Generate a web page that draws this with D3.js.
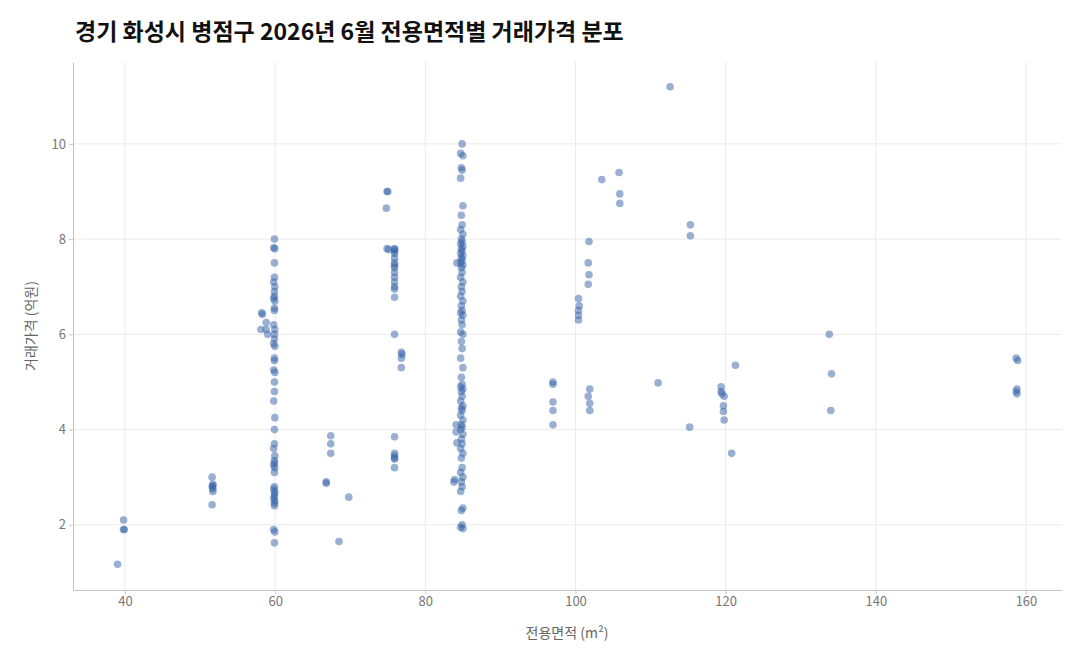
<!DOCTYPE html>
<html><head><meta charset="utf-8">
<script src="https://cdn.jsdelivr.net/npm/d3@7"></script>
<style>body{margin:0;background:#fff;font-family:"Noto Sans CJK KR","Noto Sans",sans-serif;}</style>
</head><body><svg id="c" width="1080" height="660"></svg>
<script>
// columns of sales: price lists for the common unit sizes
const col60 = [8.0,7.82,7.8,7.5,7.2,7.1,7.0,6.9,6.8,6.75,6.7,6.55,6.5,6.2,6.1,6.0,5.9,5.8,5.75,5.5,5.45,5.25,5.2,5.0,4.8,4.6,4.25,4.0,3.7,3.6,3.45,3.35,3.3,3.25,3.2,3.1,2.8,2.75,2.7,2.65,2.6,2.55,2.5,2.45,2.4,1.9,1.85,1.62];
const col60Area = [59.9,59.8,59.95,59.9];
const col85 = [10.0,9.8,9.75,9.5,9.45,9.28,8.7,8.5,8.3,8.2,8.1,8.0,7.95,7.9,7.85,7.8,7.75,7.7,7.65,7.6,7.55,7.5,7.45,7.4,7.3,7.2,7.1,7.0,6.9,6.8,6.7,6.6,6.5,6.45,6.4,6.3,6.2,6.05,6.0,5.85,5.7,5.5,5.3,5.1,4.95,4.9,4.85,4.8,4.7,4.6,4.5,4.45,4.4,4.3,4.2,4.1,4.05,4.0,3.9,3.8,3.7,3.6,3.5,3.4,3.2,3.1,3.0,2.9,2.8,2.7,2.35,2.3,2.0,1.95,1.92];
const col85Area = [84.9,84.7,85.0,84.8];
const col76 = [7.8,7.78,7.75,7.7,7.6,7.5,7.45,7.4,7.3,7.2,7.1,7.0,6.95,6.78,6.0,3.85,3.5,3.45,3.4,3.38,3.2];
const others = [
  [58.2,6.45],[58.3,6.42],[58.8,6.25],[58.8,6.1],[59,6.0],[58.1,6.1],
  [84.2,7.5],[84.1,4.1],[84.1,3.95],[84.2,3.72],[83.9,2.95],[83.8,2.9],
  [74.9,9.0],[75.0,9.0],[74.8,8.65],[74.9,7.8],[75.1,7.78],
  [76.8,5.62],[76.9,5.58],[76.8,5.5],[76.8,5.3],
  [67.4,3.87],[67.4,3.7],[67.4,3.5],[66.8,2.9],[66.8,2.87],[69.8,2.58],[68.5,1.65],
  [51.6,3.0],[51.7,2.85],[51.7,2.82],[51.6,2.8],[51.7,2.75],[51.7,2.7],[51.6,2.42],
  [39.8,2.1],[39.8,1.9],[39.9,1.9],[39,1.17],
  [97,5.0],[97,4.95],[97,4.58],[97,4.4],[97,4.1],
  [100.4,6.75],[100.5,6.6],[100.4,6.5],[100.4,6.4],[100.4,6.3],
  [101.8,7.95],[101.7,7.5],[101.8,7.25],[101.7,7.05],[101.9,4.85],[101.7,4.7],[101.9,4.55],[101.9,4.4],
  [103.5,9.25],[105.8,9.4],[105.9,8.95],[105.9,8.75],[112.6,11.2],[111,4.98],
  [115.3,8.3],[115.3,8.07],[115.2,4.05],
  [119.4,4.9],[119.4,4.8],[119.5,4.75],[119.8,4.7],[119.7,4.5],[119.7,4.38],[119.8,4.2],
  [120.8,3.5],[121.3,5.35],[133.8,6.0],[134.1,5.17],[134.0,4.4],
  [158.7,5.5],[158.9,5.45],[158.8,4.85],[158.7,4.8],[158.8,4.75]
];
const xTicks = [40,60,80,100,120,140,160];
const yTicks = [2,4,6,8,10];

const points = [
  ...col60.map((p, i) => [col60Area[i % col60Area.length], p]),
  ...col85.map((p, i) => [col85Area[i % col85Area.length], p]),
  ...col76.map(p => [75.9, p]),
  ...others
];

const svg = d3.select("#c");
const x = d3.scaleLinear().domain([33.07, 164.8]).range([73, 1062]);
const y = d3.scaleLinear().domain([0.63, 11.72]).range([590, 62]);

svg.append("g").selectAll("line").data(xTicks).enter().append("line")
  .attr("x1", d => x(d)).attr("x2", d => x(d)).attr("y1", 62).attr("y2", 590)
  .attr("stroke", "#ebebeb");
svg.append("g").selectAll("line").data(yTicks).enter().append("line")
  .attr("y1", d => y(d)).attr("y2", d => y(d)).attr("x1", 73).attr("x2", 1062)
  .attr("stroke", "#ebebeb");

const xa = svg.append("g").attr("transform", "translate(0,590)")
  .call(d3.axisBottom(x).tickValues(xTicks).tickSize(4).tickSizeOuter(0));
const ya = svg.append("g").attr("transform", "translate(73,0)")
  .call(d3.axisLeft(y).tickValues(yTicks).tickSize(4).tickSizeOuter(0));
[xa, ya].forEach(a => {
  a.select(".domain").attr("stroke", "#c4c4c4");
  a.selectAll(".tick line").attr("stroke", "#c4c4c4");
  a.selectAll("text").attr("fill", "#777").attr("font-size", 13)
    .attr("font-family", "Noto Sans CJK KR, sans-serif");
});

svg.append("g").selectAll("circle").data(points).enter().append("circle")
  .attr("cx", d => x(d[0])).attr("cy", d => y(d[1])).attr("r", 3.8)
  .attr("fill", "#3461a8").attr("fill-opacity", 0.5);

svg.append("text").attr("x", 75).attr("y", 40).attr("font-size", 23).attr("font-weight", "bold")
  .attr("fill", "#111").text("경기 화성시 병점구 2026년 6월 전용면적별 거래가격 분포");
svg.append("text").attr("x", 567).attr("y", 638).attr("text-anchor", "middle")
  .attr("font-size", 14).attr("fill", "#666").text("전용면적 (m²)");
svg.append("text").attr("transform", "translate(36,326) rotate(-90)").attr("text-anchor", "middle")
  .attr("font-size", 14).attr("fill", "#666").text("거래가격 (억원)");
</script></body></html>
